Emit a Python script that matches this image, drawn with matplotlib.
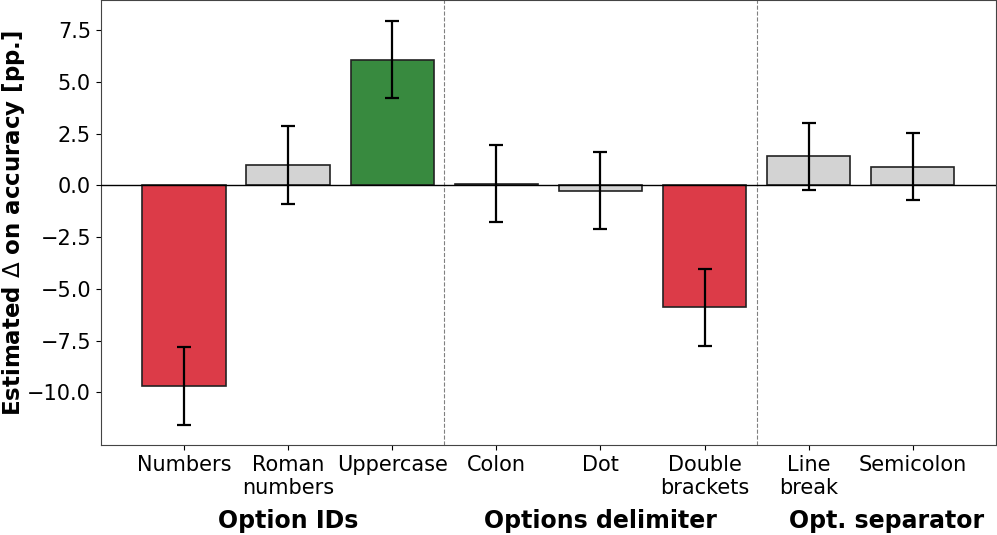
import matplotlib
matplotlib.use("Agg")
import matplotlib.pyplot as plt
import numpy as np

categories = ["Numbers", "Roman\nnumbers", "Uppercase", "Colon", "Dot",
              "Double\nbrackets", "Line\nbreak", "Semicolon"]
values = [-9.7, 0.97, 6.07, 0.08, -0.26, -5.9, 1.41, 0.9]
errors = [1.87, 1.87, 1.87, 1.86, 1.86, 1.86, 1.62, 1.63]
colors = ["#dc3b48", "#d3d3d3", "#388a3f", "#d3d3d3", "#d3d3d3",
          "#dc3b48", "#d3d3d3", "#d3d3d3"]
groups = ["Option IDs", "Options delimiter", "Opt. separator"]
group_centers = [1, 4, 6.75]
separators = [2.5, 5.5]

fig = plt.figure(figsize=(9.97, 5.35), dpi=100)
ax = fig.add_axes([0.101, 0.168, 0.898, 0.832])
x = np.arange(len(categories))
ax.bar(x, values, width=0.8, color=colors, edgecolor="#222222", linewidth=1.2,
       yerr=errors, capsize=5, error_kw=dict(elinewidth=1.6, capthick=1.6, ecolor="black"), zorder=2)
ax.axhline(0, color="black", linewidth=1, zorder=3)
for s in separators:
    ax.axvline(s, color="gray", linestyle="--", linewidth=0.8, zorder=1)
ax.set_xlim(-0.8, 7.8)
ax.set_ylim(-12.55, 8.95)
ax.set_yticks([-10, -7.5, -5, -2.5, 0, 2.5, 5, 7.5])
ax.set_yticklabels(["−10.0", "−7.5", "−5.0", "−2.5", "0.0", "2.5", "5.0", "7.5"])
ax.tick_params(axis="y", labelsize=15)
ax.set_xticks(x)
ax.set_xticklabels(categories, fontsize=15)
for sp in ax.spines.values():
    sp.set_color("#444444")
ax.set_ylabel(r"Estimated $\Delta$ on accuracy [pp.]", fontsize=16.5, fontweight="bold")
ax.yaxis.set_label_coords(-0.082, 0.5)
trans = matplotlib.transforms.blended_transform_factory(ax.transData, fig.transFigure)
for g, c in zip(groups, group_centers):
    ax.text(c, 1 - 521 / 535, g, transform=trans, ha="center", va="center",
            fontsize=17, fontweight="bold")
fig.savefig("out.png", dpi=100)
